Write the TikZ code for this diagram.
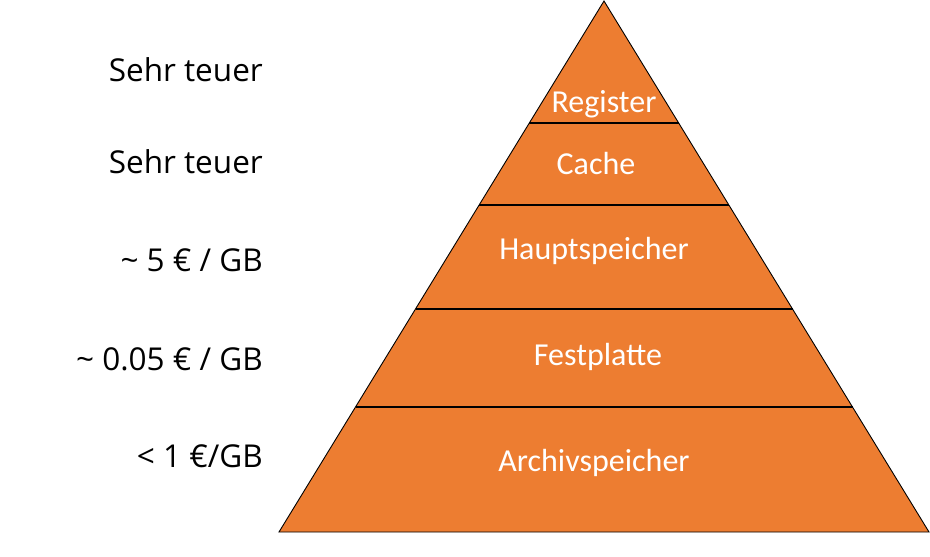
\documentclass[tikz,border=0pt]{standalone}
\usepackage{fontspec}
\setmainfont{Open Sans}
\newfontfamily\pyrfont{Carlito}
\definecolor{pyrorange}{HTML}{ED7D31}
\begin{document}
\begin{tikzpicture}[x=1pt,y=-1pt,
  price/.style={anchor=base east,inner sep=0pt,font=\fontsize{31.5}{36}\selectfont,text=black},
  layer/.style={anchor=base,inner sep=0pt,font=\pyrfont\fontsize{32}{37}\selectfont,text=white},
  sep/.style={line width=2.8pt,black}]
\useasboundingbox (0,0) rectangle (930,557);
\coordinate (apex) at (604,1);
\coordinate (bl) at (279,532);
\coordinate (br) at (929,532);
\filldraw[fill=pyrorange,draw=black,line width=0.9pt] (apex) -- (br) -- (bl) -- cycle;
% separator lines
\foreach \n/\t in {1/0.2298,2/0.3843,3/0.5800,4/0.7646}{
  \path (apex) -- (bl) coordinate[pos=\t] (L\n);
  \path (apex) -- (br) coordinate[pos=\t] (R\n);
  \draw[sep] (L\n) -- (R\n);
}
\node[layer] (reg) at (604,112) {Register};
\node[layer] (cac) at (596,174) {Cache};
\node[layer] (hau) at (594,259) {Hauptspeicher};
\node[layer] (fes) at (598,365) {Festplatte};
\node[layer] (arc) at (594,471) {Archivspeicher};
\node[price] (p1) at (263,81) {Sehr teuer};
\node[price] (p2) at (263,173) {Sehr teuer};
\node[price] (p3) at (263,271) {\textasciitilde\ 5 € / GB};
\node[price] (p4) at (263,370) {\textasciitilde\ 0.05 € / GB};
\node[price] (p5) at (263,467) {< 1 €/GB};
\end{tikzpicture}
\end{document}
